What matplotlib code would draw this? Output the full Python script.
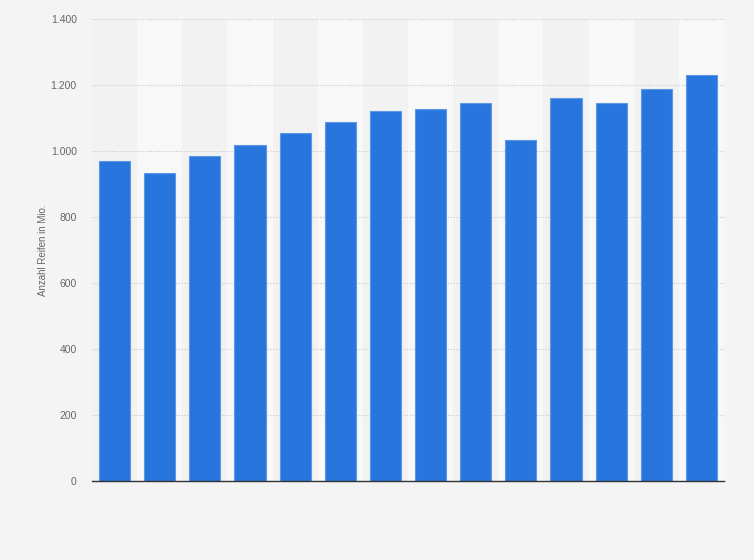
import numpy as np
from matplotlib import pyplot as plt
from matplotlib.ticker import FuncFormatter

plt.rcParams['font.family'] = ['Liberation Sans', 'DejaVu Sans']

# Anzahl Reifen in Mio.
years = ['2005', '2006', '2007', '2008', '2009', '2010', '2011',
         '2012', '2013', '2014', '2015', '2016', '2017', '2018']
tires = [971, 933, 985, 1018, 1055, 1088, 1121,
         1127, 1145, 1033, 1161, 1145, 1188, 1231]
yticks = [0, 200, 400, 600, 800, 1000, 1200, 1400]

fig = plt.figure(figsize=(7.54, 5.6), dpi=100)
fig.patch.set_facecolor('#f4f4f4')
axs = fig.add_axes([92/754, 79/560, 632/754, 462/560])
axs.set_facecolor('#f4f4f4')

x = np.arange(len(years))

# alternating column bands
for i in x:
    col = '#f2f2f2' if i % 2 == 0 else '#f8f8f8'
    axs.axvspan(i - 0.5, i + 0.5, color=col, zorder=0, lw=0)

axs.bar(x, tires, width=0.69, color='#2876dd', edgecolor='#5d98e6',
        linewidth=0.8, zorder=3)

axs.set_xlim(-0.5, len(years) - 0.5)
axs.set_ylim(0, 1400)
axs.set_yticks(yticks)
axs.yaxis.set_major_formatter(FuncFormatter(lambda v, p: f'{int(v):,}'.replace(',', '.')))
axs.set_xticks(x)
axs.set_xticklabels([''] * len(years))
axs.grid(axis='y', color='#c8c8c8', linestyle=(0, (1, 1.5)), linewidth=0.8, zorder=1)

for s in ['top', 'right', 'left']:
    axs.spines[s].set_visible(False)
axs.spines['bottom'].set_color('#333333')
axs.spines['bottom'].set_linewidth(1.0)
axs.spines['bottom'].set_zorder(4)

axs.tick_params(axis='y', length=0, pad=11, labelsize=7.5, labelcolor='#666666')
axs.tick_params(axis='x', length=0)
axs.set_ylabel('Anzahl Reifen in Mio.', fontsize=7, color='#666666', labelpad=2)

plt.savefig('out.png', dpi=100, facecolor=fig.get_facecolor())
plt.close(fig)
